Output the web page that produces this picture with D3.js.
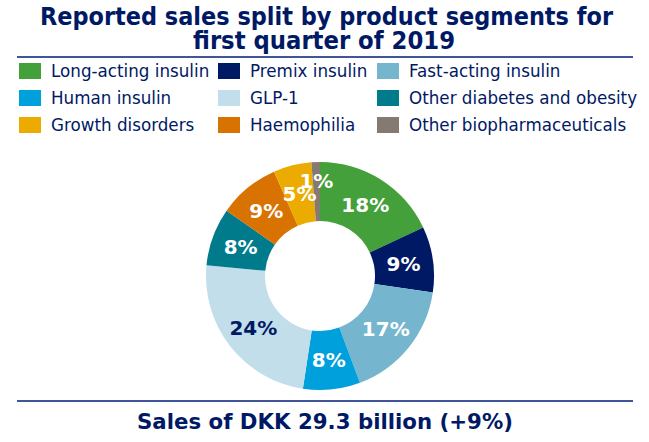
<!DOCTYPE html>
<html>
<head>
<meta charset="utf-8">
<script src="https://cdn.jsdelivr.net/npm/d3@7"></script>
<style>
  html, body { margin: 0; padding: 0; background: #fff; }
  svg { display: block; }
</style>
</head>
<body>
<svg id="chart" width="649" height="442"></svg>
<script>
// ---- data ----
const categories = [
  "Long-acting insulin", "Premix insulin", "Fast-acting insulin",
  "Human insulin", "GLP-1", "Other diabetes and obesity",
  "Haemophilia", "Growth disorders", "Other biopharmaceuticals"
];
const shares = [18.0, 9.3, 17.0, 8.1, 24.1, 8.2, 8.7, 5.4, 1.2];
const shareLabels = ["18%", "9%", "17%", "8%", "24%", "8%", "9%", "5%", "1%"];
const colors = ["#43A03A", "#001965", "#75B6CE", "#00A0DC", "#C2DEEA",
                "#007B8B", "#D87200", "#EBAB00", "#847A70"];
const legendOrder = [
  "Long-acting insulin", "Premix insulin", "Fast-acting insulin",
  "Human insulin", "GLP-1", "Other diabetes and obesity",
  "Growth disorders", "Haemophilia", "Other biopharmaceuticals"
];
const titleLines = ["Reported sales split by product segments for", "first quarter of 2019"];
const footerText = "Sales of DKK 29.3 billion (+9%)";

// ---- layout ----
const navy = "#001965";
const svg = d3.select("#chart");
const color = d3.scaleOrdinal().domain(categories).range(colors);

// title
const titleSpecs = [{x0: 40, x1: 613, y: 25}, {x0: 193, x1: 455, y: 49}];
titleLines.forEach((t, i) => {
  const s = titleSpecs[i];
  svg.append("text")
    .attr("x", s.x0).attr("y", s.y)
    .attr("font-family", "DejaVu Sans, Verdana, sans-serif")
    .attr("font-weight", "bold").attr("font-size", 24)
    .attr("fill", navy)
    .attr("textLength", s.x1 - s.x0).attr("lengthAdjust", "spacingAndGlyphs")
    .text(t);
});
svg.append("line").attr("x1", 17).attr("x2", 633).attr("y1", 57).attr("y2", 57)
  .attr("stroke", "#40559A").attr("stroke-width", 2);

// legend
const colX = [19, 218, 377];
const rowY = [63, 90, 117];
const legendTextK = 0.93;
legendOrder.forEach((name, i) => {
  const c = i % 3, r = Math.floor(i / 3);
  const g = svg.append("g");
  g.append("rect").attr("x", colX[c]).attr("y", rowY[r])
    .attr("width", 22).attr("height", 16).attr("fill", color(name));
  const tx = g.append("text")
    .attr("x", colX[c] + 32).attr("y", rowY[r] + 14)
    .attr("font-family", "DejaVu Sans, Verdana, sans-serif")
    .attr("font-size", 18).attr("fill", navy)
    .text(name);
  const w = tx.node().getComputedTextLength();
  tx.attr("textLength", w * legendTextK).attr("lengthAdjust", "spacingAndGlyphs");
});

// donut
const cx = 320, cy = 276, rOuter = 114, rInner = 55;
const pie = d3.pie().sort(null).value(d => d.v).startAngle(0).endAngle(2 * Math.PI);
const data = categories.map((c, i) => ({c, v: shares[i], label: shareLabels[i]}));
const arcs = pie(data);
const arc = d3.arc().innerRadius(rInner).outerRadius(rOuter);
const gDonut = svg.append("g").attr("transform", `translate(${cx},${cy})`);
gDonut.selectAll("path").data(arcs).join("path")
  .attr("d", arc).attr("fill", d => color(d.data.c));

const labelArc = d3.arc().innerRadius(rInner).outerRadius(rOuter);
const smallArc = d3.arc().innerRadius(88).outerRadius(102);
gDonut.selectAll("text").data(arcs).join("text")
  .attr("transform", d => {
    const p = (d.data.v < 2 ? smallArc : labelArc).centroid(d);
    return `translate(${p[0]},${p[1]})`;
  })
  .attr("text-anchor", "middle").attr("dy", "0.36em")
  .attr("font-family", "DejaVu Sans, Verdana, sans-serif")
  .attr("font-weight", "bold").attr("font-size", 20)
  .attr("fill", d => d.data.c === "GLP-1" ? navy : "#fff")
  .text(d => d.data.label);

// footer
svg.append("line").attr("x1", 17).attr("x2", 633).attr("y1", 401).attr("y2", 401)
  .attr("stroke", "#40559A").attr("stroke-width", 2);
svg.append("text")
  .attr("x", 137).attr("y", 429)
  .attr("font-family", "DejaVu Sans, Verdana, sans-serif")
  .attr("font-weight", "bold").attr("font-size", 22)
  .attr("fill", navy)
  .attr("textLength", 376).attr("lengthAdjust", "spacingAndGlyphs")
  .text(footerText);
</script>
</body>
</html>
